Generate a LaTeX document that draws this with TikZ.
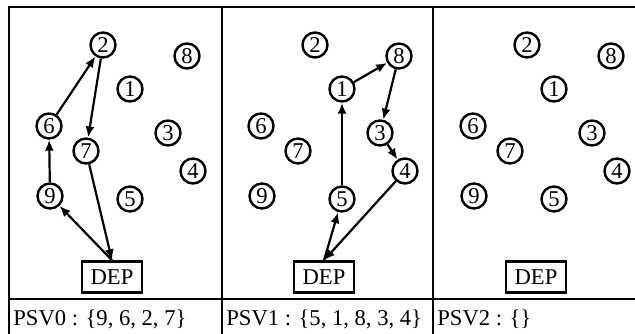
\documentclass[tikz,border=0pt]{standalone}
\usepackage{fontspec}
\setmainfont{Liberation Serif}
\usetikzlibrary{arrows.meta}

\begin{document}
\begin{tikzpicture}[
    x = 0.5pt, y = -0.5pt, > = {Latex[length=5.5pt, width=4.5pt]},
    font = \fontsize{11.3}{13}\selectfont,
    customer/.style = {
      circle, draw, line width = 1.2pt, inner sep = 0pt, minimum size = 12.5pt
    },
    depot/.style = {
      rectangle, draw, line width = 1.2pt, inner sep = 0pt,
      minimum width = 30pt, minimum height = 15.5pt
    },
    path/.style = {
      arrows = ->, line width = 1.1pt
    },
    frame/.style = {
      line width = 1.4pt
    },
    psv/.style = {
      anchor = base west, inner sep = 0pt
    },
    ]

    \useasboundingbox (0,0) rectangle (635,333);
    \clip (0,0) rectangle (635,333);

    % draw panel frames
    \draw  [frame]  (9,345) |- (645,7);
    \foreach \x in {222, 433}
    \draw  [frame]  (\x,7) -- (\x,345);
    \draw  [frame]  (9,299) -- (645,299);

    % draw customers and depot (same layout in every panel)
    \foreach \p in {0, 1, 2} {
      \begin{scope}[xshift = \p*106pt]
        \foreach \i/\cx/\cy in {1/130/89, 2/103/45, 3/168/133, 4/193/171,
                                5/130/199, 6/49/126, 7/86/151, 8/187/56,
                                9/50/196}
        \node  [customer]  (n\p-\i)  at (\cx,\cy)  {\i};
        \node  [depot]  (dep\p)  at (112,277)  {DEP};
        \coordinate  (n\p-D)  at (dep\p.north);
      \end{scope}
    }

    % draw routes
    \foreach \j [remember = \j as \lastj (initially D)] in {9, 6, 2, 7, D}
    \draw  [path]  (n0-\lastj)  --  (n0-\j);

    \foreach \j [remember = \j as \lastj (initially D)] in {5, 1, 8, 3, 4, D}
    \draw  [path]  (n1-\lastj)  --  (n1-\j);

    % route labels
    \node  [psv]  (psv0)  at (13,325)   {PSV0 : \{9, 6, 2, 7\}};
    \node  [psv]  (psv1)  at (226,325)  {PSV1 : \{5, 1, 8, 3, 4\}};
    \node  [psv]  (psv2)  at (437,325)  {PSV2 : \{\}};

\end{tikzpicture}
\end{document}
